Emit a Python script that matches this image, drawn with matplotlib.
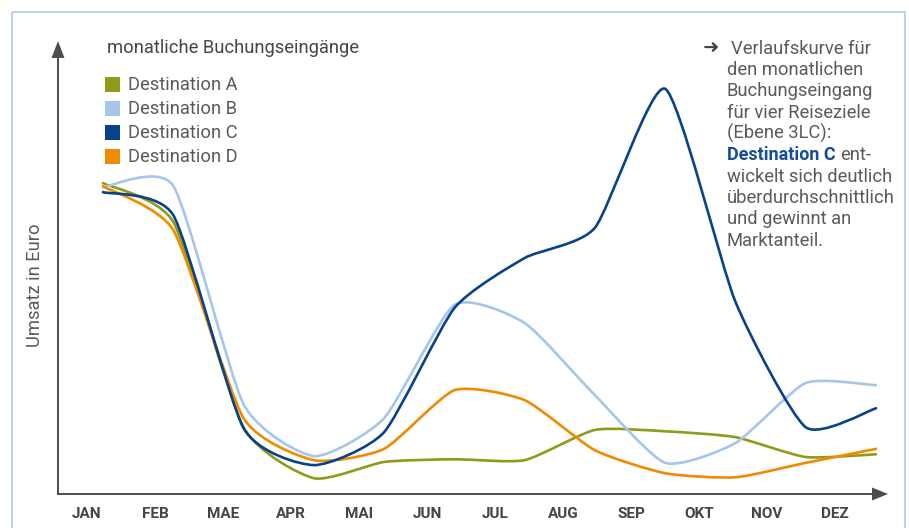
import numpy as np
import matplotlib
matplotlib.use("Agg")
import matplotlib.pyplot as plt
from matplotlib.path import Path
from matplotlib.patches import PathPatch, Polygon, Rectangle

# ---------------- data ----------------
months = ["JAN", "FEB", "MAE", "APR", "MAI", "JUN", "JUL", "AUG", "SEP", "OKT", "NOV", "DEZ"]
series_names = ["Destination A", "Destination B", "Destination C", "Destination D"]
dest_a = [68.7, 60.1, 14.6, 3.3, 6.9, 7.5, 7.3, 14.0, 13.7, 12.4, 8.0, 8.6]
dest_b = [67.8, 68.1, 19.7, 8.2, 16.6, 41.7, 37.7, 21.7, 6.7, 11.1, 24.4, 23.9]
dest_c = [66.7, 61.6, 14.4, 6.2, 13.5, 41.0, 52.1, 58.8, 89.6, 42.4, 14.6, 18.8]
dest_d = [68.0, 58.3, 16.6, 7.3, 9.8, 22.8, 20.6, 9.5, 4.4, 3.5, 6.7, 9.8]
colors = ["#8f9c18", "#a5c6ea", "#07428a", "#f08a00"]

W, H = 909, 528
fig = plt.figure(figsize=(W / 100, H / 100), dpi=100)

# overlay axes in pixel coordinates for decoration
ov = fig.add_axes([0, 0, 1, 1])
ov.set_xlim(0, W)
ov.set_ylim(H, 0)
ov.axis("off")

# data axes
ax_l, ax_r, ax_t, ax_b = 58, 888, 41, 494
ax = fig.add_axes([ax_l / W, (H - ax_b) / H, (ax_r - ax_l) / W, (ax_b - ax_t) / H])
ax.patch.set_alpha(0)
for s in ax.spines.values():
    s.set_visible(False)
x0_px, dx_px = 103, 70.27
ax.set_xlim((ax_l - x0_px) / dx_px, (ax_r - x0_px) / dx_px)
ax.set_ylim(-0.2, 100.2)
ax.set_yticks([])
tick_pos = [(87 + 68 * k - x0_px) / dx_px for k in range(len(months))]
ax.set_xticks(tick_pos)
ax.set_xticklabels(months, fontfamily="Roboto", fontweight="bold", fontsize=11, color="#454545")
ax.tick_params(axis="x", length=0, pad=9)


def smooth_path(xs, ys, k=0.6):
    pts = np.column_stack([xs, ys]).astype(float)
    n = len(pts)
    verts = [pts[0]]
    codes = [Path.MOVETO]
    for i in range(n - 1):
        p0 = pts[i - 1] if i > 0 else pts[i]
        p1 = pts[i]
        p2 = pts[i + 1]
        p3 = pts[i + 2] if i + 2 < n else pts[i + 1]
        c1 = p1 + (p2 - p0) / 6.0 * k
        c2 = p2 - (p3 - p1) / 6.0 * k
        verts += [c1, c2, p2]
        codes += [Path.CURVE4] * 3
    return Path(verts, codes)


xs = np.arange(len(months))
for vals, col in zip([dest_a, dest_b, dest_d, dest_c], [colors[0], colors[1], colors[3], colors[2]]):
    ax.add_patch(PathPatch(smooth_path(xs, vals), facecolor="none", edgecolor=col,
                           lw=1.9, capstyle="round", joinstyle="round"))

# frame
ov.add_patch(Rectangle((12, 12), 893, 530, fill=False, edgecolor="#b8d3ef", lw=1.4))

# axes with arrows
axis_col = "#4d4d4d"
ov.plot([58, 58], [494, 55], color=axis_col, lw=1.4, solid_capstyle="butt")
ov.plot([57.3, 875], [494, 494], color=axis_col, lw=1.4, solid_capstyle="butt")
ov.add_patch(Polygon([[58, 41], [51.5, 58], [64.5, 58]], closed=True, color=axis_col, lw=0))
ov.add_patch(Polygon([[888, 494], [872, 487.5], [872, 500.5]], closed=True, color=axis_col, lw=0))

txt_col = "#5a5a5a"
# y-label
ov.text(35, 285, "Umsatz in Euro", rotation=90, ha="center", va="center",
        fontfamily="Roboto", fontsize=13.2, color=txt_col)

# legend
ov.text(107, 48, "monatliche Buchungseingänge", ha="left", va="center",
        fontfamily="Roboto", fontsize=13.2, color="#454545")
for i, (name, col) in enumerate(zip(series_names, colors)):
    y = 84 + 24 * i
    ov.add_patch(Rectangle((105, y - 7.5), 15, 15, color=col, lw=0))
    ov.text(128, y + 1.5, name, ha="left", va="center", fontfamily="Roboto",
            fontsize=13.2, color=txt_col)

# annotation
ann_lines = ["Verlaufskurve für", "den monatlichen", "Buchungseingang", "für vier Reiseziele",
             "(Ebene 3LC):", None, "wickelt sich deutlich", "überdurchschnittlich",
             "und gewinnt an", "Marktanteil."]
ov.text(703, 47.5, "➜", ha="left", va="center", fontfamily=["DejaVu Sans"],
        fontweight="bold", fontsize=14, color="#444444")
for i, line in enumerate(ann_lines):
    y = 48.5 + 21.35 * i
    if line is None:
        ov.text(727, y, "Destination C", ha="left", va="center", fontfamily="Roboto",
                fontweight="bold", fontsize=12.9, color="#164c94")
        ov.text(840, y, "ent-", ha="left", va="center", fontfamily="Roboto",
                fontsize=13.2, color=txt_col)
    else:
        x = 731 if i == 0 else 727
        ov.text(x, y, line, ha="left", va="center", fontfamily="Roboto",
                fontsize=13.2, color=txt_col)

fig.savefig("out.png", dpi=100)
